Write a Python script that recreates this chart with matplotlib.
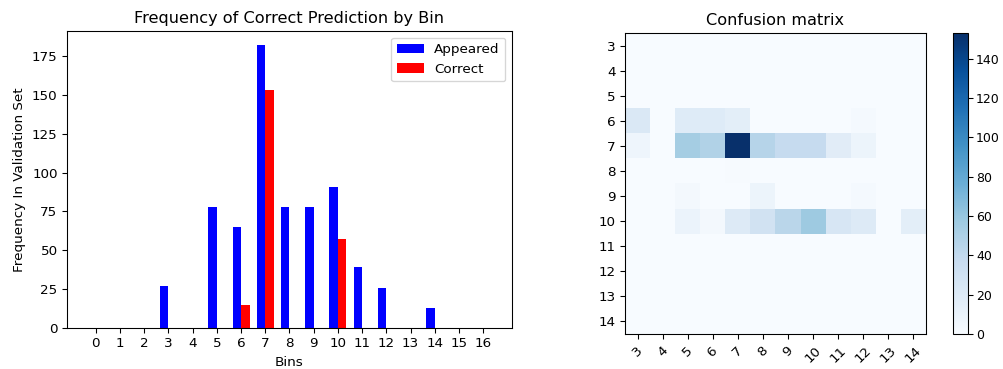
import numpy as np
import matplotlib
matplotlib.use("Agg")
import matplotlib.pyplot as plt

# 棒グラフのデータ
bins = list(range(17))
appeared = [0, 0, 0, 27, 0, 78, 65, 182, 78, 78, 91, 39, 26, 0, 13, 0, 0]
correct = [0, 0, 0, 0, 0, 0, 15, 153, 0, 0, 57, 0, 0, 0, 0, 0, 0]

# 混同行列のデータ (行: 3..14, 列: 3..14)
classes = [str(c) for c in range(3, 15)]
cm_row3 = [0, 0, 0, 0, 0, 0, 0, 0, 0, 0, 0, 0]
cm_row4 = [0, 0, 0, 0, 0, 0, 0, 0, 0, 0, 0, 0]
cm_row5 = [0, 0, 0, 0, 0, 0, 0, 0, 0, 0, 0, 0]
cm_row6 = [22, 0, 19, 19, 15, 0, 0, 0, 0, 2, 0, 0]
cm_row7 = [7, 0, 54, 48, 153, 46, 38, 38, 17, 8, 0, 0]
cm_row8 = [0, 0, 0, 0, 1, 0, 0, 0, 0, 0, 0, 0]
cm_row9 = [0, 0, 3, 0, 0, 8, 0, 0, 0, 2, 0, 0]
cm_row10 = [0, 0, 9, 3, 20, 29, 44, 57, 25, 20, 0, 15]
cm_row11 = [0, 0, 0, 0, 0, 0, 0, 0, 0, 0, 0, 0]
cm_row12 = [0, 0, 0, 0, 0, 0, 0, 0, 0, 0, 0, 0]
cm_row13 = [0, 0, 0, 0, 0, 0, 0, 0, 0, 0, 0, 0]
cm_row14 = [0, 0, 0, 0, 0, 0, 0, 0, 0, 0, 0, 0]

DPI = 97
fig = plt.figure(figsize=(1003 / DPI, 369 / DPI), dpi=DPI)
W, H = 1003, 369

def box(x0, y0, x1, y1):
    # ピクセル座標から図の座標へ
    return [x0 / W, 1 - y1 / H, (x1 - x0) / W, (y1 - y0) / H]

# 左: 棒グラフ
ax1 = fig.add_axes(box(67, 31, 512, 328))
ind = np.arange(len(bins))
width = 0.35
ax1.bar(ind - width / 2, appeared, width, color='blue', label='Appeared')
ax1.bar(ind + width / 2, correct, width, color='red', label='Correct')
ax1.set_xticks(ind)
ax1.set_xticklabels([str(b) for b in bins])
ax1.set_title('Frequency of Correct Prediction by Bin')
ax1.set_xlabel('Bins')
ax1.set_ylabel('Frequency In Validation Set')
ax1.legend(loc='upper right')

# 右: 混同行列
cm = np.array([cm_row3, cm_row4, cm_row5, cm_row6, cm_row7, cm_row8,
               cm_row9, cm_row10, cm_row11, cm_row12, cm_row13, cm_row14])
ax2 = fig.add_axes(box(625, 33, 926, 334))
im = ax2.imshow(cm, interpolation='nearest', cmap=plt.cm.Blues, aspect='auto')
ax2.set_title('Confusion matrix')
ticks = np.arange(len(classes))
ax2.set_xticks(ticks)
ax2.set_xticklabels(classes, rotation=45)
ax2.set_yticks(ticks)
ax2.set_yticklabels(classes)

cax = fig.add_axes(box(953, 33, 968, 334))
fig.colorbar(im, cax=cax)
cax.tick_params(labelsize=9.3, pad=2.5)

fig.savefig('out.png', dpi=DPI)
